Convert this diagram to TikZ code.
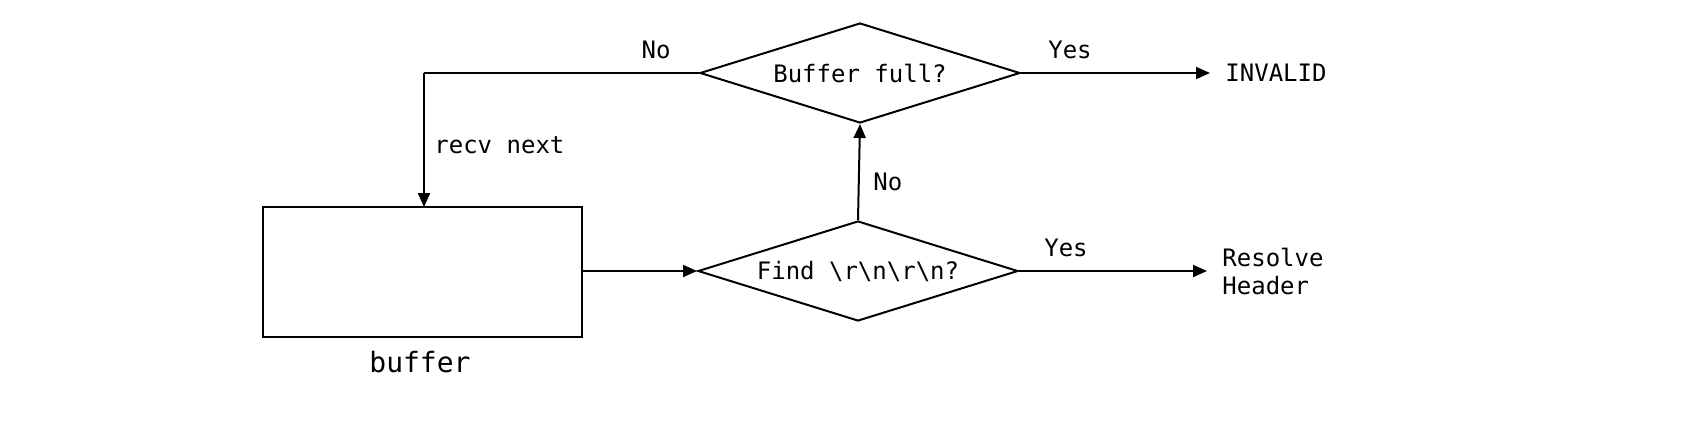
\documentclass[tikz,border=0pt]{standalone}
\usepackage{fontspec}
\setmainfont{DejaVu Sans Mono}
\usetikzlibrary{shapes.geometric,arrows.meta}
\begin{document}
\begin{tikzpicture}[x=0.5pt,y=-0.5pt,
  every node/.style={font=\fontsize{12pt}{14pt}\selectfont},
  decision/.style={draw,diamond,line width=1pt,inner sep=0pt,aspect=3.2,minimum width=160pt,minimum height=50pt},
  box/.style={draw,rectangle,line width=1pt,minimum width=159.5pt,minimum height=65pt,inner sep=0pt},
  conn/.style={line width=1pt,-{Triangle[length=7pt,width=6pt]}},
  plain/.style={line width=1pt},
  lbl/.style={inner sep=0pt},
  target/.style={anchor=west,inner xsep=7.5pt,inner ysep=0pt,align=left}]
\useasboundingbox (0,0) rectangle (1688,420);
\node[decision] (full) at (860,73) {Buffer full?};
\node[decision] (find) at (858,271) {Find \textbackslash r\textbackslash n\textbackslash r\textbackslash n?};
\node[box] (buf) at (422.5,272) {};
\node[lbl,font=\fontsize{14pt}{16pt}\selectfont] (buflbl) at (420,362) {buffer};
\coordinate (corner) at (424,73);
\coordinate (bufin) at (424,207);
\node[target] (inv) at (1210,73) {INVALID};
\node[target] (res) at (1207,271) {Resolve\\Header};
\draw[plain] (full.west) -- (corner);
\draw[conn] (corner) -- (bufin);
\draw[conn] (buf.east |- find.west) -- (find.west);
\draw[conn] (find.north) -- (full.south);
\draw[conn] (full.east) -- (inv.west);
\draw[conn] (find.east) -- (res.west);
\node[lbl] (no1) at (656,50) {No};
\node[lbl] (yes1) at (1070,50) {Yes};
\node[lbl,anchor=west] (recv) at (434,145) {recv next};
\node[lbl,anchor=west] (no2) at (873,182) {No};
\node[lbl] (yes2) at (1066,248) {Yes};
\end{tikzpicture}
\end{document}
